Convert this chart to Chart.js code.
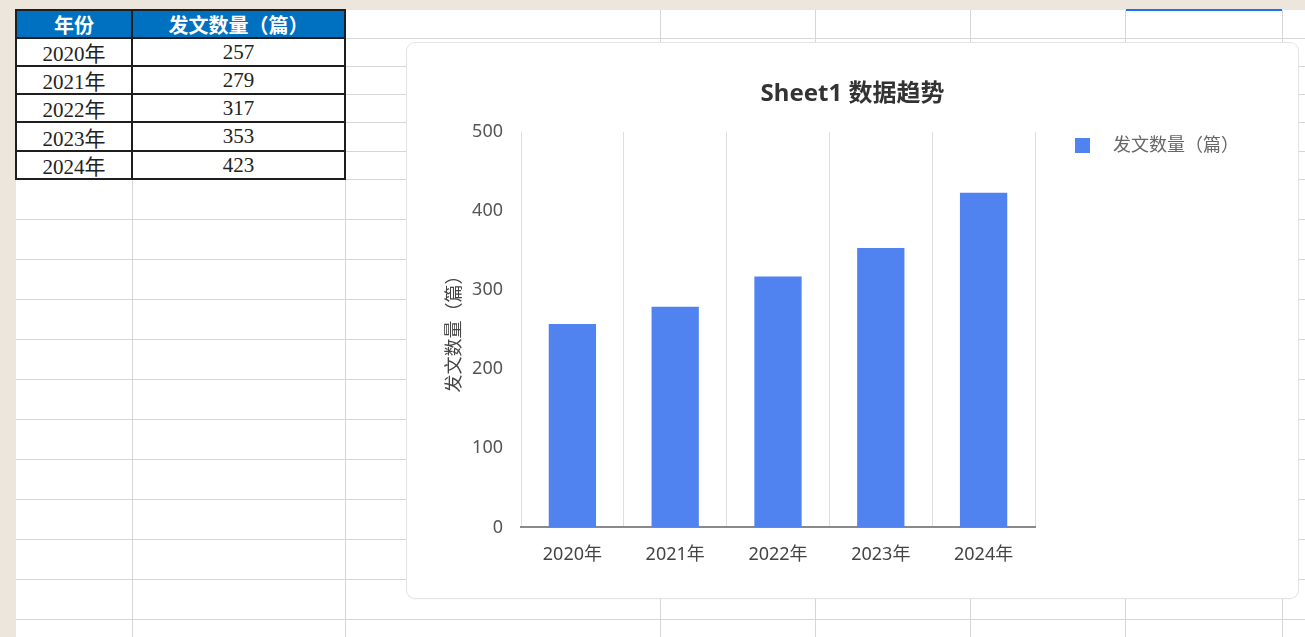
<!DOCTYPE html>
<html lang="zh">
<head>
<meta charset="utf-8">
<title>Sheet1 数据趋势</title>
<script src="https://cdn.jsdelivr.net/npm/chart.js@4.4.1/dist/chart.umd.min.js"></script>
<style>
  html, body { margin: 0; padding: 0; }
  body { width: 1305px; height: 637px; overflow: hidden; position: relative; background: #ece6dc; }
  #sheet { position: absolute; left: 16px; top: 10px; right: 0; bottom: 0; background: #fff; }
  .ln { position: absolute; background: #d6d6d6; }
  .dark { position: absolute; background: #1e1e1e; }
  .cell { position: absolute; display: flex; align-items: center; justify-content: center;
          font-family: "Liberation Serif", "Noto Sans CJK SC", serif; font-size: 21px; color: #222; }
  .cell.head { background: #0070c0; color: #fff; font-weight: bold; font-family: "Noto Sans CJK SC", sans-serif; font-size: 20px; }
  #sel { position: absolute; left: 1126px; top: 9px; width: 156px; height: 2px; background: #1a73e8; }
  #card { position: absolute; left: 407px; top: 43px; width: 891px; height: 555px; background: #fff;
          border-radius: 8px; box-shadow: 0 0 0 1px #e4e4e4, 0 1px 3px rgba(0,0,0,0.05); overflow: hidden; }
  #chart { position: absolute; left: 0; top: 0; }
</style>
</head>
<body>
<div id="sheet"></div>
<div id="grid"></div>
<div id="sel"></div>
<div id="card"><canvas id="chart" width="891" height="555"></canvas></div>

<script>
// data
const years = ["2020年", "2021年", "2022年", "2023年", "2024年"];
const counts = [257, 279, 317, 353, 423];
const headers = ["年份", "发文数量（篇）"];
const seriesName = "发文数量（篇）";
const chartTitle = "Sheet1 数据趋势";
const yMin = 0;
const yMax = 500;
const yStep = 100;

// spreadsheet grid
const colX = [132, 345, 660, 815, 970, 1125, 1282];
const rowY = [38, 66, 94, 122, 151, 179, 219, 259, 299, 339, 379, 419, 459, 499, 539, 579, 619];
const grid = document.getElementById("grid");

function addDiv(cls, l, t, w, h, text) {
    const d = document.createElement("div");
    d.className = cls;
    d.style.left = l + "px";
    d.style.top = t + "px";
    d.style.width = w + "px";
    d.style.height = h + "px";
    if (text !== undefined) d.textContent = text;
    grid.appendChild(d);
    return d;
}

colX.forEach(x => addDiv("ln", x, 10, 1, 627));
rowY.forEach(y => addDiv("ln", 16, y, 1289, 1));

// data table
const tCols = [16, 132, 345];
const tRows = [10, 38, 66, 94, 122, 151, 179];
addDiv("cell head", 16, 10, 116, 28, headers[0]);
addDiv("cell head", 132, 10, 213, 28, headers[1]);
years.forEach((y, i) => {
    addDiv("cell", 16, tRows[i + 1], 116, tRows[i + 2] - tRows[i + 1], y);
    addDiv("cell", 132, tRows[i + 1], 213, tRows[i + 2] - tRows[i + 1], counts[i]);
});
tCols.forEach(x => addDiv("dark", x - 1, 10, 2, 170));
tRows.forEach(y => addDiv("dark", 15, y - 1, 331, 2));

// legend marker: square drawn with an empty lead-in so the gap matches
const barColor = "#5083ef";
const marker = document.createElement("canvas");
marker.width = 64;
marker.height = 15;
const mctx = marker.getContext("2d");
mctx.fillStyle = barColor;
mctx.fillRect(35, 0, 15, 15);

const fontFamily = '"Noto Sans", "Noto Sans CJK SC", sans-serif';
const sidePad = 31; // same left and right so the title sits in the middle of the card

new Chart(document.getElementById("chart"), {
    type: "bar",
    data: {
        labels: years,
        datasets: [{
            label: seriesName,
            data: counts,
            backgroundColor: barColor,
            borderWidth: 0,
            categoryPercentage: 1,
            barPercentage: 0.46
        }]
    },
    options: {
        responsive: false,
        animation: false,
        devicePixelRatio: 1,
        layout: { padding: { left: sidePad, right: sidePad, top: 0, bottom: 15 } },
        plugins: {
            title: {
                display: true,
                text: chartTitle,
                color: "#333",
                font: { family: fontFamily, size: 24, weight: "bold" },
                padding: { top: 37, bottom: 23 }
            },
            legend: {
                position: "right",
                align: "start",
                fullSize: false,
                maxWidth: 263 - sidePad,
                labels: {
                    usePointStyle: true,
                    pointStyle: marker,
                    pointStyleWidth: 64,
                    padding: 5,
                    color: "#666",
                    font: { family: fontFamily, size: 18 },
                    // pad the label so the legend is wide enough, maxWidth trims it back
                    generateLabels(chart) {
                        const items = Chart.defaults.plugins.legend.labels.generateLabels(chart);
                        items.forEach(it => { it.text += "\u00a0".repeat(20); });
                        return items;
                    }
                }
            },
            tooltip: { enabled: false }
        },
        scales: {
            x: {
                grid: { display: true, color: "#dedede", drawTicks: false, offset: true },
                border: { display: true, color: "#8a8a8a", width: 2 },
                ticks: { color: "#444", padding: 17, font: { family: fontFamily, size: 18 } }
            },
            y: {
                min: yMin,
                max: yMax,
                grid: { display: false, drawTicks: false },
                border: { display: false },
                ticks: { stepSize: yStep, color: "#555", padding: 18, font: { family: fontFamily, size: 18 } },
                title: {
                    display: true,
                    text: seriesName,
                    color: "#444",
                    font: { family: fontFamily, size: 18 },
                    padding: { top: 6, bottom: 0 }
                },
                afterFit(scale) { scale.width = 114 - sidePad; }
            }
        }
    }
});
</script>
</body>
</html>
